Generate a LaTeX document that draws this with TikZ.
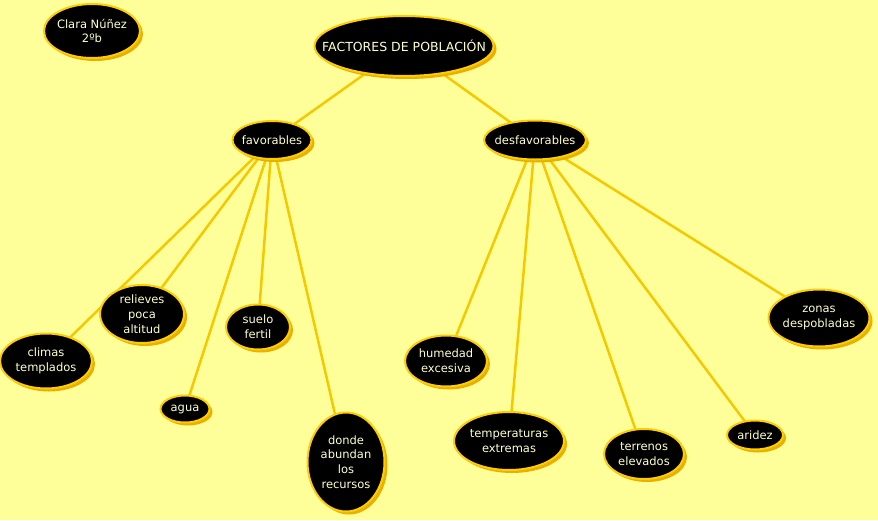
\documentclass[tikz,border=0pt]{standalone}
\usepackage{fontspec}
\setmainfont{DejaVu Sans}
\usetikzlibrary{shapes.geometric,shadows}
\definecolor{bgc}{HTML}{FFFF99}
\definecolor{bordc}{HTML}{FFCC00}
\definecolor{shc}{HTML}{E8B000}
\definecolor{linec}{HTML}{F5C800}
\definecolor{txtc}{HTML}{FFFFCC}
\pgfdeclarelayer{bglayer}
\pgfdeclarelayer{linelayer}
\pgfsetlayers{bglayer,linelayer,main}
\tikzset{
  ell/.style={ellipse, fill=black, draw=bordc, line width=2pt, inner sep=-200pt,
    text=txtc, align=center, font=\fontsize{11.5}{14.8}\selectfont,
    drop shadow={shadow xshift=3pt, shadow yshift=-3pt, fill=shc, opacity=1}},
  conn/.style={draw=linec, line width=2.5pt}
}
\begin{document}
\begin{tikzpicture}[x=1pt,y=-1pt]
\begin{pgfonlayer}{bglayer}
\fill[bgc] (0,0) rectangle (878,520);
\end{pgfonlayer}
\useasboundingbox (0,0) rectangle (878,520);

\node[ell, minimum width=96pt, minimum height=54pt] (clara) at (92,31) {Clara Núñez\\2ºb};
\node[ell, minimum width=179pt, minimum height=60pt, font=\fontsize{12.5}{15}\selectfont] (title) at (404,46) {FACTORES DE POBLACIÓN};
\node[ell, minimum width=79pt, minimum height=38pt] (fav) at (272,140) {favorables};
\node[ell, minimum width=102pt, minimum height=39pt] (desfav) at (535,140) {desfavorables};
\node[ell, minimum width=92pt, minimum height=55pt] (climas) at (46,361) {climas\\templados};
\node[ell, minimum width=84pt, minimum height=58pt] (relieves) at (142,314) {relieves\\poca\\altitud};
\node[ell, minimum width=64pt, minimum height=45pt] (suelo) at (258,327) {suelo\\fertil};
\node[ell, minimum width=49pt, minimum height=27pt] (agua) at (185,409) {agua};
\node[ell, minimum width=77pt, minimum height=99pt] (donde) at (346,462) {donde\\abundan\\los\\recursos};
\node[ell, minimum width=82pt, minimum height=51pt] (humedad) at (446,361) {humedad\\excesiva};
\node[ell, minimum width=110pt, minimum height=58pt] (temp) at (509,441) {temperaturas\\extremas};
\node[ell, minimum width=80pt, minimum height=50pt] (terrenos) at (644,454) {terrenos\\elevados};
\node[ell, minimum width=56pt, minimum height=29pt] (aridez) at (755,435) {aridez};
\node[ell, minimum width=101pt, minimum height=57pt] (zonas) at (819,318) {zonas\\despobladas};

\begin{pgfonlayer}{linelayer}
\draw[conn] (title.center) -- (fav.center);
\draw[conn] (title.center) -- (desfav.center);
\foreach \c in {climas,relieves,suelo,agua,donde}
  \draw[conn] (fav.center) -- (\c.center);
\foreach \c in {humedad,temp,terrenos,aridez,zonas}
  \draw[conn] (desfav.center) -- (\c.center);
\end{pgfonlayer}
\end{tikzpicture}
\end{document}
